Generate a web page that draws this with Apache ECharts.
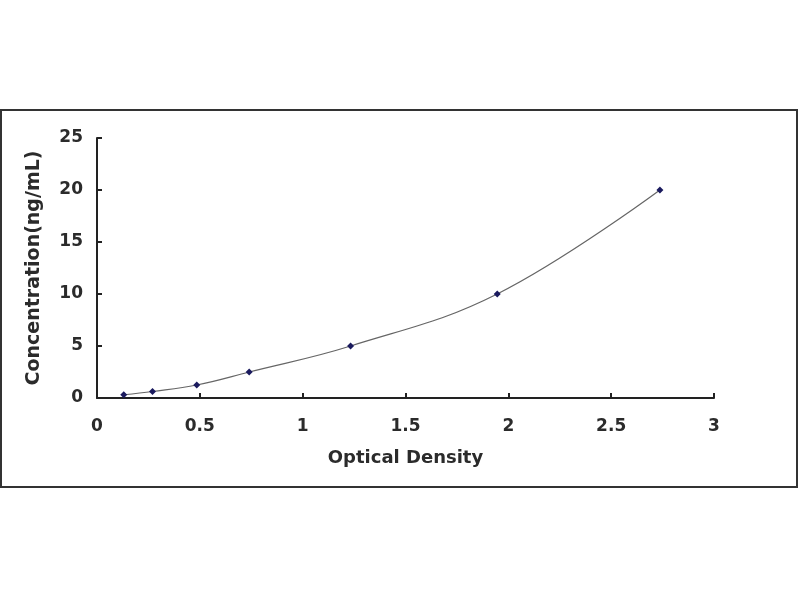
<!DOCTYPE html>
<html><head><meta charset="utf-8">
<script src="https://cdn.jsdelivr.net/npm/echarts@6/dist/echarts.min.js"></script>
<style>html,body{margin:0;padding:0;background:#fff}#c{width:800px;height:600px}</style>
</head><body><div id="c"></div>
<script>
const odValues = [0.13, 0.27, 0.485, 0.74, 1.233, 1.946, 2.737];
const concValues = [0.312, 0.625, 1.25, 2.5, 5, 10, 20];
const xTicks = [0, 0.5, 1, 1.5, 2, 2.5, 3];
const yTicks = [0, 5, 10, 15, 20, 25];

const chart = echarts.init(document.getElementById('c'));
const pts = odValues.map((x, i) => [x, concValues[i]]);
const txt = '#2b2b2b';
const ff = 'DejaVu Sans';
chart.setOption({
  animation: false,
  backgroundColor: '#fff',
  graphic: [{
    type: 'rect', shape: {x: 1, y: 110, width: 796, height: 377},
    style: {fill: 'none', stroke: '#333', lineWidth: 2}, z: -1
  }],
  grid: {left: 97, right: 86, top: 138, bottom: 202},
  xAxis: {
    type: 'value', min: xTicks[0], max: xTicks[xTicks.length - 1], interval: 0.5,
    name: 'Optical Density', nameLocation: 'middle', nameGap: 51,
    nameTextStyle: {fontFamily: ff, fontWeight: 'bold', fontSize: 18, color: txt},
    axisLine: {lineStyle: {color: '#222', width: 2}},
    axisTick: {inside: true, length: 5, lineStyle: {color: '#222', width: 2}},
    axisLabel: {fontFamily: ff, fontWeight: 'bold', fontSize: 17, color: txt, margin: 20,
      formatter: v => String(v)},
    splitLine: {show: false}
  },
  yAxis: {
    type: 'value', min: yTicks[0], max: yTicks[yTicks.length - 1], interval: 5,
    name: 'Concentration(ng/mL)', nameLocation: 'middle', nameGap: 53,
    nameTextStyle: {fontFamily: ff, fontWeight: 'bold', fontSize: 19, color: txt},
    axisLine: {show: true, lineStyle: {color: '#222', width: 2}},
    axisTick: {show: true, inside: true, length: 5, lineStyle: {color: '#222', width: 2}},
    axisLabel: {fontFamily: ff, fontWeight: 'bold', fontSize: 17, color: txt, margin: 14},
    splitLine: {show: false}
  },
  series: [{
    type: 'line', data: pts, smooth: 0.4,
    symbol: 'diamond', symbolSize: 7,
    itemStyle: {color: '#1a1a5e'},
    lineStyle: {color: '#666', width: 1.2}
  }]
});
</script></body></html>
